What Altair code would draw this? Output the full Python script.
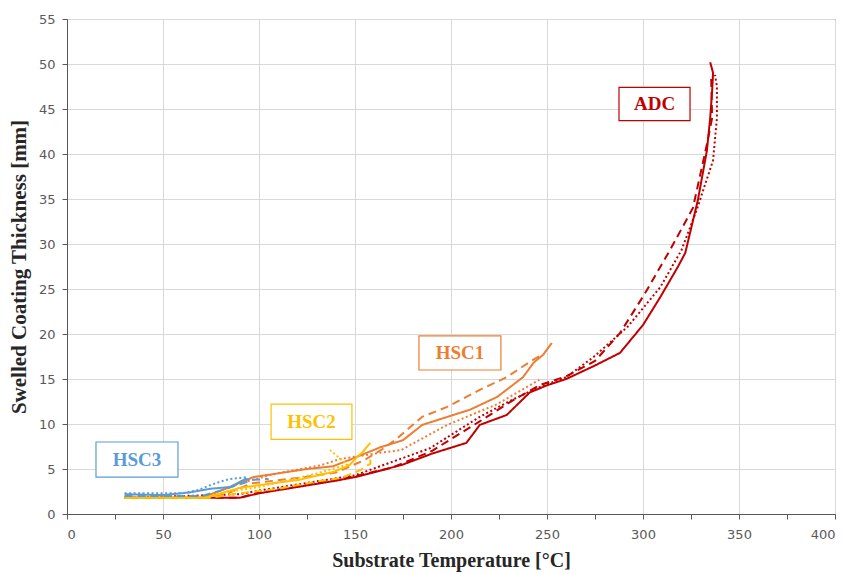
import altair as alt
import pandas as pd

# ---------------- data ----------------
# ADC
adc_solid_t = [30, 60, 90, 100, 120, 140, 150, 163, 175, 190, 208, 215, 229, 241, 250, 260, 275, 288, 300, 309, 318, 322, 328.6, 333.3, 335, 336, 336.5, 335]
adc_solid_h = [1.8, 1.8, 1.8, 2.3, 3.0, 3.7, 4.1, 4.8, 5.5, 6.7, 7.9, 9.9, 11.0, 13.5, 14.3, 15.0, 16.5, 17.9, 21.0, 24.1, 27.4, 29.0, 34.9, 40.4, 44.0, 47.0, 49.0, 50.2]
adc_dash_t = [30, 90, 100, 150, 170, 190, 215, 232, 246, 260, 275, 288, 301, 314, 326, 333, 336, 335.5]
adc_dash_h = [1.8, 1.8, 2.4, 4.2, 5.2, 7.0, 10.3, 12.6, 14.3, 15.3, 17.0, 20.1, 24.5, 29.3, 34.0, 40.8, 44.0, 48.5]
adc_dot_t = [30, 90, 100, 150, 189, 215, 232, 246, 260, 274, 292, 309, 320, 328, 336.5, 338.5, 338.5, 337.5]
adc_dot_h = [1.8, 2.2, 2.6, 4.3, 7.3, 10.8, 12.7, 14.1, 15.2, 17.4, 20.8, 25.2, 29.3, 33.8, 39.3, 44.0, 47.5, 48.8]

# HSC1
hsc1_solid_t = [30, 70, 85, 97, 125, 138.5, 147, 163, 175, 185, 210, 224, 237.5, 243, 248, 252.5]
hsc1_solid_h = [1.8, 1.8, 3.0, 4.1, 5.0, 5.3, 6.0, 7.4, 8.2, 9.9, 11.6, 13.0, 15.2, 16.8, 17.7, 19.0]
hsc1_dash_t = [30, 75, 85, 96, 120, 140, 155, 165, 172, 185, 198, 215, 229, 241, 248]
hsc1_dash_h = [1.8, 1.8, 2.4, 3.4, 4.0, 4.6, 6.0, 7.3, 8.4, 10.8, 11.9, 13.8, 15.2, 16.9, 17.8]
hsc1_dot_t = [30, 70, 80, 90, 109, 132, 142, 163, 174, 198, 224, 246]
hsc1_dot_h = [1.8, 1.8, 2.6, 3.4, 4.5, 5.4, 6.1, 6.8, 7.1, 9.9, 12.2, 14.9]

# HSC2
hsc2_solid_t = [30, 72, 80, 90, 110, 121, 139, 147, 151, 154, 158]
hsc2_solid_h = [1.8, 1.8, 2.3, 2.9, 3.5, 3.8, 4.7, 5.4, 6.3, 6.9, 7.9]
hsc2_dash_t = [30, 75, 90, 110, 130, 143, 153, 158, 158]
hsc2_dash_h = [1.8, 1.8, 2.3, 2.8, 3.6, 4.0, 4.9, 5.6, 6.3]
hsc2_dot_t = [30, 72, 85, 100, 120, 130, 138, 146, 142, 137]
hsc2_dot_h = [1.8, 1.8, 2.5, 3.0, 4.0, 4.5, 5.0, 5.5, 6.2, 7.1]

# HSC3
hsc3_solid_t = [30, 50, 64, 74.5, 85, 93, 95]
hsc3_solid_h = [2.2, 2.1, 2.4, 2.8, 3.0, 3.9, 3.8]
hsc3_dash_t = [30, 70, 80, 90, 97, 105]
hsc3_dash_h = [2.0, 2.0, 2.6, 3.3, 3.8, 3.9]
hsc3_dot_t = [30, 60, 69, 74.5, 80, 85, 90, 94]
hsc3_dot_h = [2.3, 2.3, 2.7, 3.2, 3.6, 3.9, 4.0, 4.1]

groups = ["ADC", "HSC1", "HSC2", "HSC3"]
group_colors = ["#C00000", "#ED7D31", "#FFC000", "#5B9BD5"]
styles = ["solid", "dashed", "dotted"]
style_dashes = [[1, 0], [8, 5], [2, 2.5]]

# annotation labels (data coordinates: box extents)
label_text = ["ADC", "HSC1", "HSC2", "HSC3"]
label_x0 = [287.5, 183.3, 106.3, 15.1]
label_x1 = [324.5, 226.0, 148.4, 57.8]
label_y0 = [43.7, 16.0, 8.3, 4.1]
label_y1 = [47.4, 19.8, 12.2, 8.0]

series = [
    ("ADC", "solid", adc_solid_t, adc_solid_h),
    ("ADC", "dashed", adc_dash_t, adc_dash_h),
    ("ADC", "dotted", adc_dot_t, adc_dot_h),
    ("HSC1", "solid", hsc1_solid_t, hsc1_solid_h),
    ("HSC1", "dashed", hsc1_dash_t, hsc1_dash_h),
    ("HSC1", "dotted", hsc1_dot_t, hsc1_dot_h),
    ("HSC2", "solid", hsc2_solid_t, hsc2_solid_h),
    ("HSC2", "dashed", hsc2_dash_t, hsc2_dash_h),
    ("HSC2", "dotted", hsc2_dot_t, hsc2_dot_h),
    ("HSC3", "solid", hsc3_solid_t, hsc3_solid_h),
    ("HSC3", "dashed", hsc3_dash_t, hsc3_dash_h),
    ("HSC3", "dotted", hsc3_dot_t, hsc3_dot_h),
]

rows = []
for k, (g, s, ts, hs) in enumerate(series):
    for i, (t, h) in enumerate(zip(ts, hs)):
        rows.append({"series": f"{g} {s}", "group": g, "style": s, "T": t, "H": h, "i": i})
df = pd.DataFrame(rows)

lab = pd.DataFrame({
    "label": label_text, "x0": label_x0, "x1": label_x1, "y0": label_y0, "y1": label_y1,
    "xc": [(a + b) / 2 for a, b in zip(label_x0, label_x1)],
    "yc": [(a + b) / 2 for a, b in zip(label_y0, label_y1)],
})

color_scale = alt.Scale(domain=groups, range=group_colors)

x_axis = alt.Axis(
    values=list(range(0, 401, 25)),
    labelExpr="datum.value % 50 === 0 ? datum.label : ''",
    gridOpacity={"condition": {"test": "datum.value % 50 === 0", "value": 1}, "value": 0},
    title="Substrate Temperature [°C]",
    titlePadding=9,
    labelPadding=9,
    titleFontSize=20,
)
y_axis = alt.Axis(
    values=[v * 2.5 for v in range(0, 23)],
    labelExpr="datum.value % 5 === 0 ? datum.label : ''",
    gridOpacity={"condition": {"test": "datum.value % 5 === 0", "value": 1}, "value": 0},
    title="Swelled Coating Thickness [mm]",
    titlePadding=9,
    labelPadding=7,
    titleFontSize=21,
)

lines = alt.Chart(df).mark_line(strokeWidth=2, clip=True).encode(
    x=alt.X("T:Q", scale=alt.Scale(domain=[0, 400], nice=False, zero=False), axis=x_axis),
    y=alt.Y("H:Q", scale=alt.Scale(domain=[0, 55], nice=False), axis=y_axis),
    color=alt.Color("group:N", scale=color_scale, legend=None),
    strokeDash=alt.StrokeDash("style:N", scale=alt.Scale(domain=styles, range=style_dashes), legend=None),
    detail="series:N",
    order="i:Q",
)

boxes = alt.Chart(lab).mark_rect(fill="white", strokeWidth=1.2).encode(
    x="x0:Q", x2="x1", y="y0:Q", y2="y1",
    stroke=alt.Color("label:N", scale=color_scale, legend=None),
)
texts = alt.Chart(lab).mark_text(font="Liberation Serif", fontWeight="bold", fontSize=19).encode(
    x="xc:Q", y="yc:Q", text="label:N",
    color=alt.Color("label:N", scale=color_scale, legend=None),
)

chart = alt.layer(lines, boxes, texts).properties(
    width=768, height=495,
    autosize=alt.AutoSizeParams(type="none"),
    padding={"left": 67, "top": 19, "right": 14, "bottom": 60},
    background="white",
).configure_view(
    stroke="#595959", strokeWidth=1,
).configure_axis(
    domainColor="#595959", tickColor="#595959", tickSize=5,
    gridColor="#D9D9D9", gridWidth=1,
    labelFont="DejaVu Sans", labelFontSize=13, labelColor="#595959",
    titleFont="Liberation Serif", titleFontWeight="bold", titleColor="#262626",
)

chart.save("out.html", embed_options={"renderer": "svg", "actions": False})
